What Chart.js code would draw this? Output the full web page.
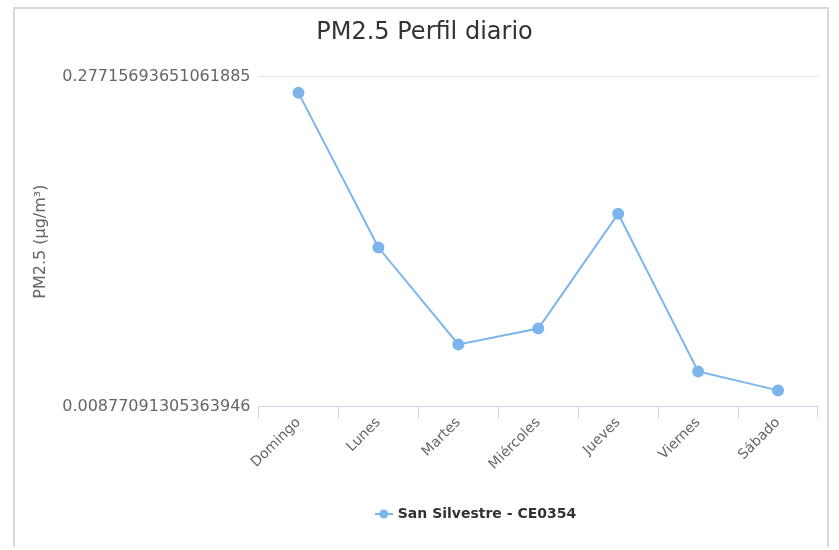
<!DOCTYPE html>
<html>
<head>
<meta charset="utf-8">
<script src="https://cdn.jsdelivr.net/npm/chart.js@4/dist/chart.umd.min.js"></script>
<style>
    body { margin: 0; background: #fff; }
    #frame {
        position: absolute; left: 13px; top: 7px; width: 816px; height: 540px;
        border: 2px solid #d8d8d8; border-bottom: none; box-sizing: border-box;
    }
    #frame canvas { display: block; }
</style>
</head>
<body>
<div id="frame"><canvas id="chart"></canvas></div>
<script>
const days = ["Domingo", "Lunes", "Martes", "Miércoles", "Jueves", "Viernes", "Sábado"];
const pm25 = [0.2641, 0.1381, 0.0592, 0.0722, 0.1657, 0.0372, 0.0218];
const yMin = 0.00877091305363946;
const yMax = 0.27715693651061885;
const seriesName = "San Silvestre - CE0354";
const lineColor = "#7cb5ec";

// legend symbol: short line with a dot, like the original
const legendIcon = document.createElement("canvas");
legendIcon.width = 18;
legendIcon.height = 12;
const ictx = legendIcon.getContext("2d");
ictx.strokeStyle = lineColor;
ictx.lineWidth = 2;
ictx.beginPath();
ictx.moveTo(0, 6);
ictx.lineTo(18, 6);
ictx.stroke();
ictx.fillStyle = lineColor;
ictx.beginPath();
ictx.arc(9, 6, 4.5, 0, Math.PI * 2);
ictx.fill();

const font = "'DejaVu Sans', sans-serif";

// the original legend sits a bit right of the frame centre
const shiftLegend = {
    id: "shiftLegend",
    afterLayout(chart) {
        const lg = chart.legend;
        if (!lg) return;
        lg.left += 52;
        lg.right += 52;
    },
};

new Chart(document.getElementById("chart"), {
    type: "line",
    data: {
        labels: days,
        datasets: [{
            label: seriesName,
            data: pm25,
            borderColor: lineColor,
            backgroundColor: lineColor,
            pointBackgroundColor: lineColor,
            pointBorderColor: lineColor,
            pointRadius: 5,
            borderWidth: 2,
            tension: 0,
        }],
    },
    plugins: [shiftLegend],
    options: {
        responsive: true,
        maintainAspectRatio: false,
        animation: false,
        layout: { padding: { left: 16, right: 9, top: 4, bottom: 16 } },
        plugins: {
            title: {
                display: true,
                text: "PM2.5 Perfil diario",
                color: "#333333",
                font: { family: font, size: 24, weight: "normal" },
                padding: { top: 5, bottom: 30 },
            },
            legend: {
                position: "bottom",
                labels: {
                    usePointStyle: true,
                    color: "#333333",
                    font: { family: font, size: 14, weight: "bold" },
                    padding: 38,
                    generateLabels: () => [{
                        text: seriesName,
                        pointStyle: legendIcon,
                        fontColor: "#333333",
                        datasetIndex: 0,
                    }],
                },
            },
            tooltip: { enabled: false },
        },
        scales: {
            x: {
                offset: true,
                grid: {
                    offset: true,
                    drawOnChartArea: false,
                    drawTicks: true,
                    tickLength: 12,
                    color: "#ccd6eb",
                },
                border: { color: "#ccd6eb" },
                ticks: {
                    color: "#666666",
                    font: { family: font, size: 14 },
                    minRotation: 45,
                    maxRotation: 45,
                    padding: -4,
                },
            },
            y: {
                min: yMin,
                max: yMax,
                afterBuildTicks: (axis) => {
                    axis.ticks = [{ value: yMin }, { value: yMax }];
                },
                grid: { color: "#e6e6e6", drawTicks: false },
                border: { display: false },
                ticks: {
                    color: "#666666",
                    font: { family: font, size: 16 },
                    padding: 8,
                    callback: (value) => String(value),
                },
                title: {
                    display: true,
                    text: "PM2.5 (µg/m³)",
                    color: "#666666",
                    font: { family: font, size: 16 },
                    padding: { top: 0, bottom: 4 },
                },
            },
        },
    },
});
</script>
</body>
</html>
